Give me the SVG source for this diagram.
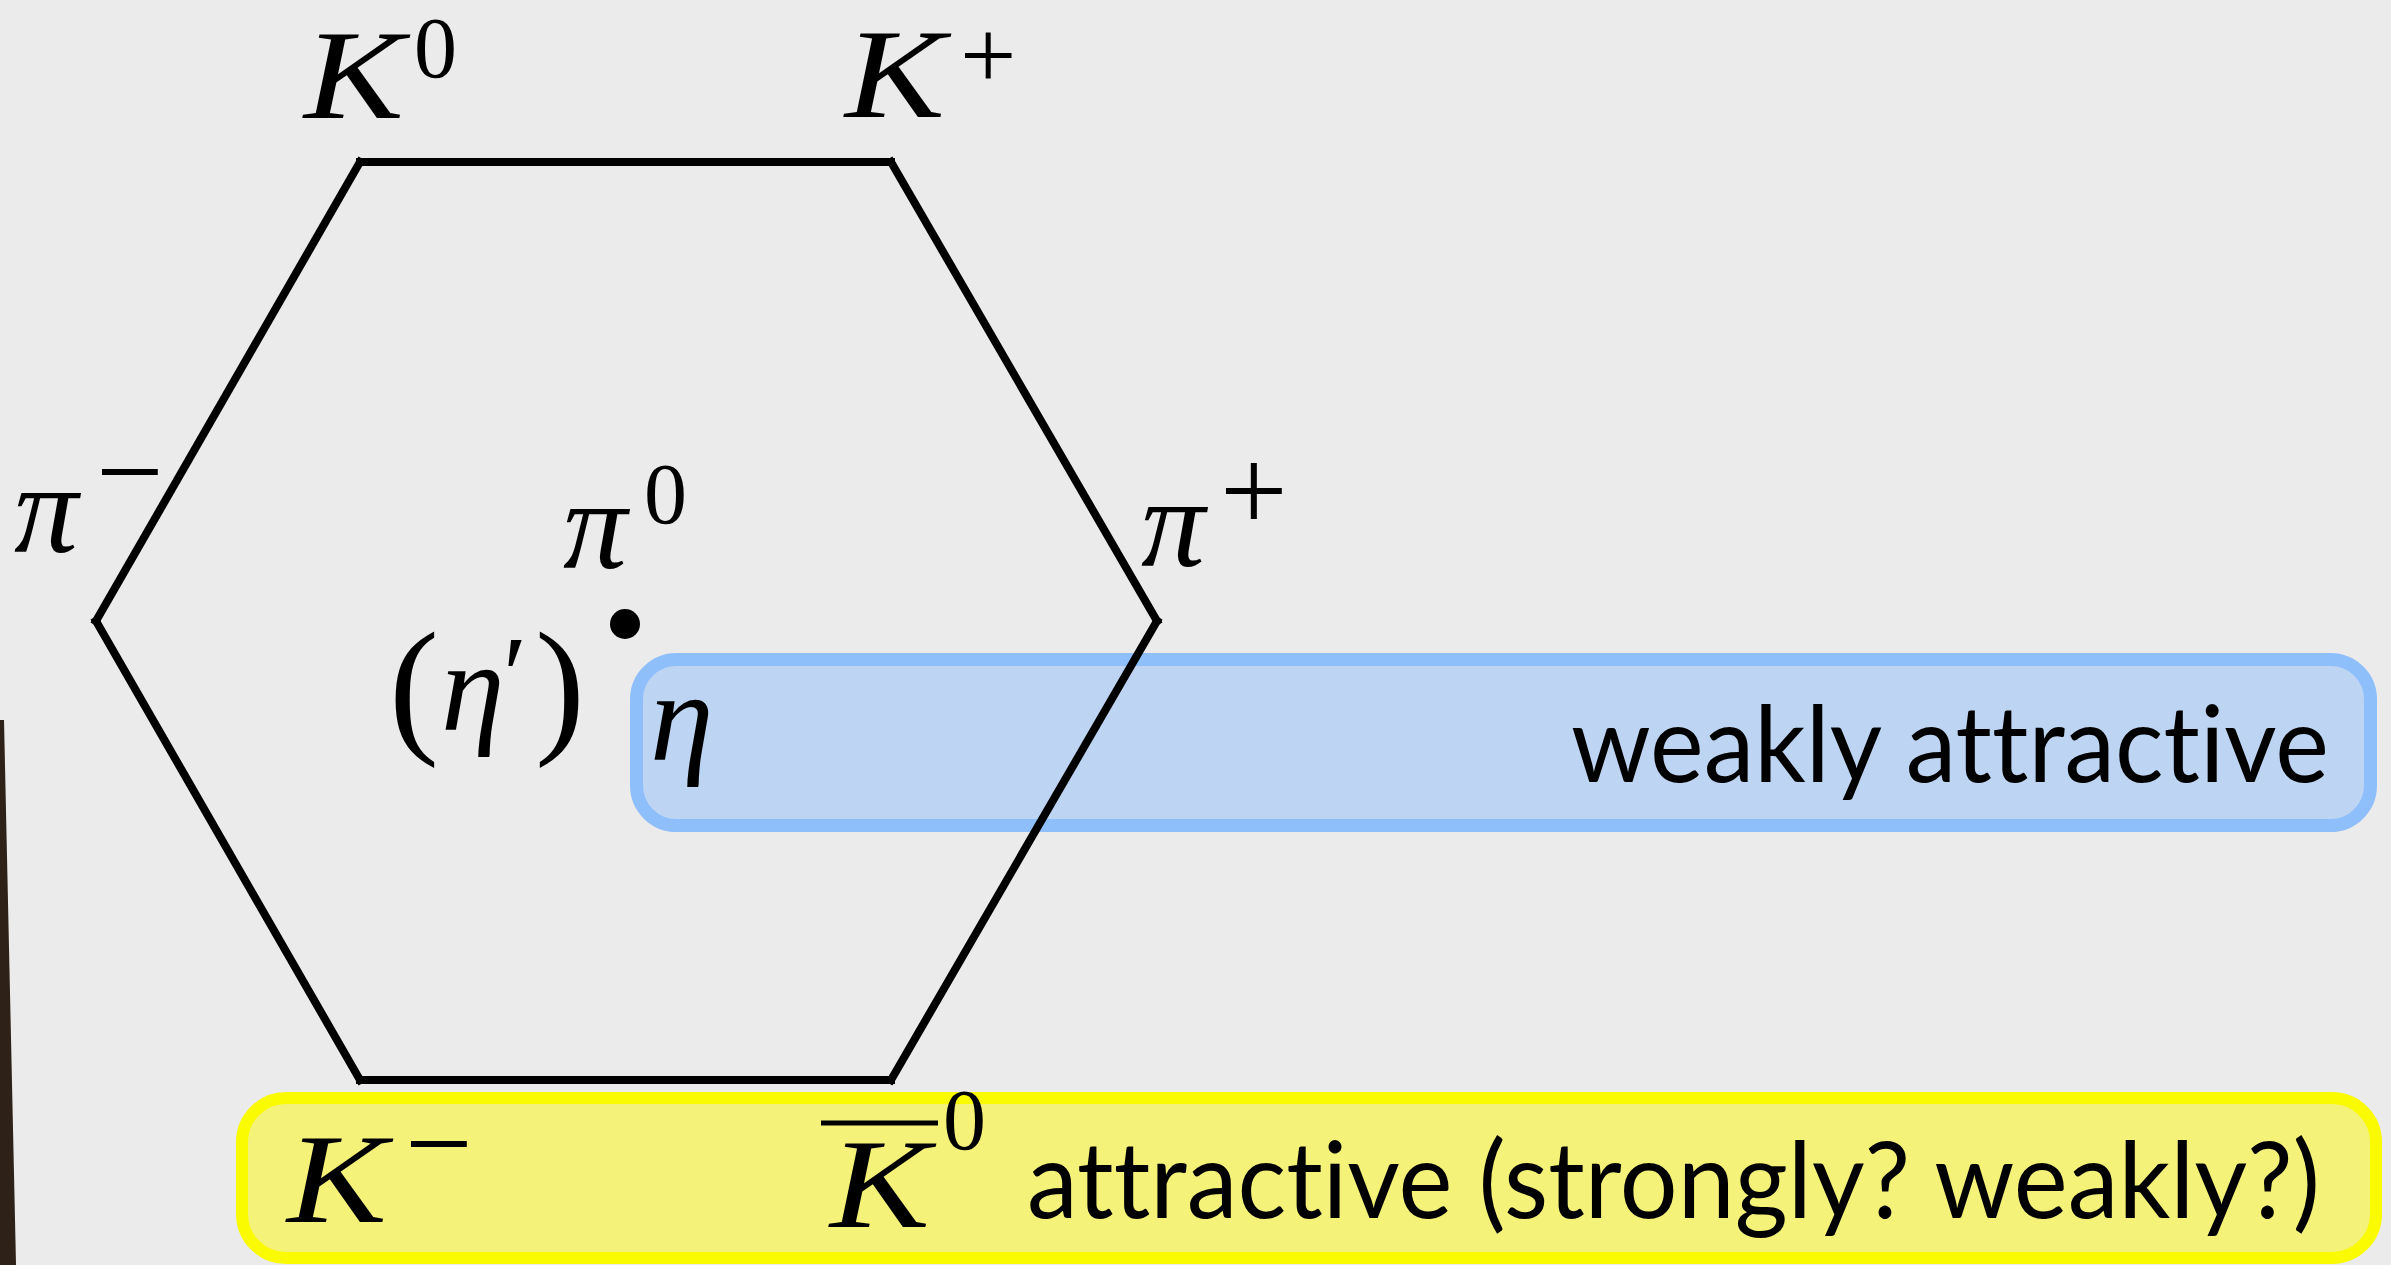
<svg xmlns="http://www.w3.org/2000/svg" width="2391" height="1265" viewBox="0 0 2391 1265">
<style>
.m{font-family:"Liberation Serif","Times New Roman",serif;font-style:italic;font-size:128px;fill:#000}
.r{font-family:"Liberation Serif","Times New Roman",serif;font-size:86px;fill:#000}
.op{font-family:"Liberation Serif","Times New Roman",serif;font-size:120px;fill:#000}
.p{font-family:"Liberation Serif","Times New Roman",serif;font-size:150px;fill:#000}
.s{font-family:Lato,"Noto Sans","Liberation Sans",sans-serif;font-size:106px;fill:#000;font-variant-ligatures:none;font-feature-settings:"liga" 0,"clig" 0,"dlig" 0}
.edge{stroke:#000;stroke-width:8;fill:none;stroke-linecap:square}
</style>
<rect x="0" y="0" width="2391" height="1265" fill="#ebebeb"/>
<polygon points="0,720 4,720 16,1265 0,1265" fill="#2e2218"/>
<g id="box-weak">
<rect x="636.5" y="659.5" width="1734" height="166" rx="40" fill="#bdd5f3" stroke="#8fbffa" stroke-width="13"/>
<text class="s" x="1571" y="782" textLength="758" lengthAdjust="spacingAndGlyphs">weakly attractive</text>
</g>
<g id="box-attr">
<rect x="242" y="1098" width="2134" height="160" rx="44" fill="#f4f279" stroke="#fafa00" stroke-width="12"/>
<text class="s" x="1027" y="1218" textLength="1293" lengthAdjust="spacingAndGlyphs">attractive (strongly? weakly?)</text>
</g>
<g id="connectors">
<line class="edge" x1="360" y1="162" x2="891" y2="162"/>
<line class="edge" x1="891" y1="162" x2="1157" y2="621"/>
<line class="edge" x1="1157" y1="621" x2="891" y2="1080"/>
<line class="edge" x1="891" y1="1080" x2="360" y2="1080"/>
<line class="edge" x1="360" y1="1080" x2="96" y2="621"/>
<line class="edge" x1="96" y1="621" x2="360" y2="162"/>
</g>
<g id="K0">
<text class="m" x="304" y="118" textLength="100" lengthAdjust="spacingAndGlyphs">K</text>
<text class="r" x="414" y="77">0</text>
</g>
<g id="Kplus">
<text class="m" x="845" y="117" textLength="100" lengthAdjust="spacingAndGlyphs">K</text>
<text class="op" x="960" y="89" style="font-size:100px">+</text>
</g>
<g id="piminus">
<text class="m" x="14" y="552">π</text>
<text class="op" x="96" y="512">−</text>
</g>
<g id="piplus">
<text class="m" x="1141" y="566">π</text>
<text class="op" x="1220" y="531">+</text>
</g>
<g id="pi0">
<text class="m" x="563" y="568">π</text>
<text class="r" x="644" y="523">0</text>
<circle cx="625" cy="624" r="15" fill="#000"/>
</g>
<g id="etaprime">
<text class="p" x="389" y="736">(</text>
<text class="m" x="441" y="730">η</text>
<text class="op" x="503" y="712" style="font-size:110px">′</text>
<text class="p" x="535" y="736">)</text>
</g>
<g id="eta">
<text class="m" x="650" y="760">η</text>
</g>
<g id="Kminus">
<text class="m" x="287" y="1222" textLength="100" lengthAdjust="spacingAndGlyphs">K</text>
<text class="op" x="405" y="1184">−</text>
</g>
<g id="K0bar">
<line x1="821" y1="1123" x2="938" y2="1123" stroke="#000" stroke-width="5"/>
<text class="m" x="830" y="1227" textLength="100" lengthAdjust="spacingAndGlyphs">K</text>
<text class="r" x="943" y="1149">0</text>
</g>
</svg>
